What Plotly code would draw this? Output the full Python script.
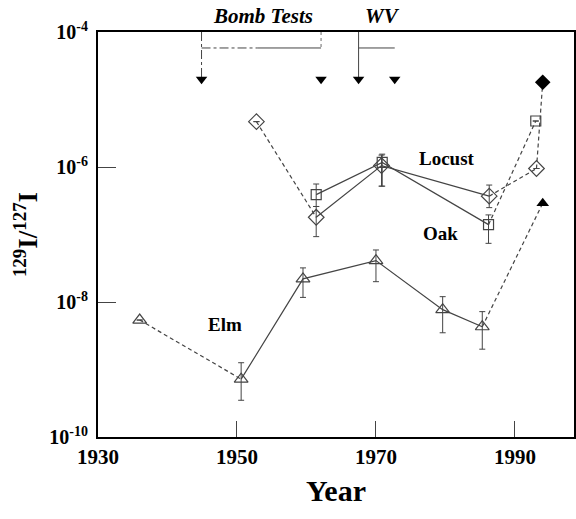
import plotly.graph_objects as go
import numpy as np

# ---- data ----
elm_years = [1936.0, 1950.6, 1959.5, 1970.0, 1979.6, 1985.3]
elm_vals = [5.4e-9, 7.2e-10, 2.2e-8, 4.1e-8, 7.7e-9, 4.3e-9]
elm_hi = [5.4e-9, 1.26e-9, 3.2e-8, 5.9e-8, 1.2e-8, 7.2e-9]
elm_lo = [5.4e-9, 3.5e-10, 1.17e-8, 2.0e-8, 3.5e-9, 2.0e-9]
elm_recent_year = [1994.0]
elm_recent_val = [2.9e-7]

locust_years = [1952.8, 1961.4, 1970.8, 1986.3, 1993.1]
locust_vals = [4.7e-6, 1.8e-7, 1.05e-6, 3.7e-7, 9.5e-7]
locust_hi = [4.7e-6, 2.6e-7, 1.5e-6, 5.4e-7, 9.5e-7]
locust_lo = [4.7e-6, 9.3e-8, 5.2e-7, 2.5e-7, 9.5e-7]
locust_recent_year = [1994.0]
locust_recent_val = [1.8e-5]

oak_years = [1961.4, 1970.9, 1986.2, 1993.0]
oak_vals = [3.9e-7, 1.17e-6, 1.4e-7, 4.8e-6]
oak_hi = [5.6e-7, 1.55e-6, 1.95e-7, 4.8e-6]
oak_lo = [2.6e-7, 5.2e-7, 7.4e-8, 4.8e-6]

bomb_years = [1944.9, 1962.1]
bomb_dashed_until = 1953.0
wv_years = [1967.5, 1972.7]
event_bar_level = 5.8e-5
event_arrow_level = 2.0e-5

x_ticks = [1930, 1950, 1970, 1990]
y_ticks = [1e-10, 1e-8, 1e-6, 1e-4]
y_ticktext = ["10<sup>-10</sup>", "10<sup>-8</sup>", "10<sup>-6</sup>", "10<sup>-4</sup>"]

LINE = "#444444"
SERIF = "Liberation Serif"
DASH = "4px,3px"

fig = go.Figure()

def seg(xs, ys, dash, width=1.2):
    fig.add_trace(go.Scatter(x=xs, y=ys, mode="lines", showlegend=False,
                             line=dict(color=LINE, width=width, dash=dash),
                             hoverinfo="skip"))

def errs(vals, hi, lo):
    v = np.array(vals); h = np.array(hi); l = np.array(lo)
    return dict(type="data", array=list(h - v), arrayminus=list(v - l),
                color=LINE, thickness=1, width=3)

# Elm
seg(elm_years[0:2], elm_vals[0:2], DASH)
seg(elm_years[1:], elm_vals[1:], "solid")
seg([elm_years[-1], elm_recent_year[0]], [elm_vals[-1], elm_recent_val[0]], DASH)
fig.add_trace(go.Scatter(x=elm_years, y=elm_vals, mode="markers", showlegend=False,
                         error_y=errs(elm_vals, elm_hi, elm_lo),
                         marker=dict(symbol="triangle-up-open", size=12, color=LINE,
                                     line=dict(width=1.2))))
fig.add_trace(go.Scatter(x=elm_recent_year, y=elm_recent_val, mode="markers", showlegend=False,
                         marker=dict(symbol="triangle-up", size=11, color="black")))

# Locust (diamonds)
seg(locust_years[0:2], locust_vals[0:2], DASH)
seg(locust_years[1:4], locust_vals[1:4], "solid")
seg(locust_years[3:5], locust_vals[3:5], DASH)
seg([locust_years[-1], locust_recent_year[0]], [locust_vals[-1], locust_recent_val[0]], DASH)
fig.add_trace(go.Scatter(x=locust_years, y=locust_vals, mode="markers", showlegend=False,
                         error_y=errs(locust_vals, locust_hi, locust_lo),
                         marker=dict(symbol="diamond-open", size=12, color=LINE,
                                     line=dict(width=1.2))))
fig.add_trace(go.Scatter(x=locust_recent_year, y=locust_recent_val, mode="markers", showlegend=False,
                         marker=dict(symbol="diamond", size=12, color="black")))

# Oak (squares)
seg(oak_years[0:3], oak_vals[0:3], "solid")
seg(oak_years[2:4], oak_vals[2:4], DASH)
fig.add_trace(go.Scatter(x=oak_years, y=oak_vals, mode="markers", showlegend=False,
                         error_y=errs(oak_vals, oak_hi, oak_lo),
                         marker=dict(symbol="square-open", size=10, color=LINE,
                                     line=dict(width=1.2))))

# Event markers (bomb tests, WV)
top = 1e-4
seg([bomb_years[0], bomb_years[0]], [top, event_arrow_level], "dashdot", 1)
seg([bomb_years[0], bomb_dashed_until], [event_bar_level, event_bar_level], "dashdot", 1)
seg([bomb_dashed_until, bomb_years[1]], [event_bar_level, event_bar_level], "solid", 1)
seg([bomb_years[1], bomb_years[1]], [top, event_bar_level], "dot", 0.8)
seg([wv_years[0], wv_years[0]], [top, event_arrow_level], "solid", 1)
seg(wv_years, [event_bar_level, event_bar_level], "solid", 1)
fig.add_trace(go.Scatter(x=bomb_years + wv_years, y=[event_arrow_level] * 4, mode="markers",
                         showlegend=False, cliponaxis=False,
                         marker=dict(symbol="triangle-down", size=10, color="black")))

lab_font = dict(family=SERIF, size=19, color="black", weight="bold")
fig.add_annotation(x=1980.2, y=np.log10(1.35e-6), text="Locust", showarrow=False, font=lab_font)
fig.add_annotation(x=1979.3, y=np.log10(1.05e-7), text="Oak", showarrow=False, font=lab_font)
fig.add_annotation(x=1948.3, y=np.log10(4.6e-9), text="Elm", showarrow=False, font=lab_font)

ev_font = dict(family=SERIF, size=21, color="black", weight="bold", style="italic")
fig.add_annotation(x=1953.8, y=1, yref="paper", yanchor="bottom", yshift=2,
                   text="Bomb Tests", showarrow=False, font=ev_font)
fig.add_annotation(x=1971.0, y=1, yref="paper", yanchor="bottom", yshift=2,
                   text="WV", showarrow=False, font=ev_font)

fig.update_layout(
    width=576, height=519,
    margin=dict(l=98, r=2, t=32, b=82, autoexpand=False),
    plot_bgcolor="white", paper_bgcolor="white",
    font=dict(family=SERIF, color="black"),
)
fig.update_xaxes(range=[1930, 1998.5], tickvals=x_ticks, ticks="inside", ticklen=16,
                 tickcolor=LINE, showgrid=False, zeroline=False, showline=True,
                 linecolor="black", linewidth=2, mirror=True, automargin=False,
                 tickfont=dict(family=SERIF, size=21, weight="bold"),
                 title=dict(text="Year", font=dict(family=SERIF, size=30, weight="bold"),
                            standoff=12))
fig.update_yaxes(type="log", range=[-10, -4], tickvals=y_ticks, ticktext=y_ticktext,
                 ticks="inside", ticklen=18, tickcolor=LINE, showgrid=False, zeroline=False,
                 showline=True, linecolor="black", linewidth=2, mirror=True, automargin=False,
                 ticklabelstandoff=4,
                 tickfont=dict(family=SERIF, size=20, weight="bold"),
                 title=dict(text="<sup>129</sup>I/<sup>127</sup>I",
                            font=dict(family=SERIF, size=27, weight="bold"), standoff=4))

fig.write_html("out.html", config={"displayModeBar": False},
               post_script="document.body.style.margin='0';document.body.style.overflow='hidden';")
